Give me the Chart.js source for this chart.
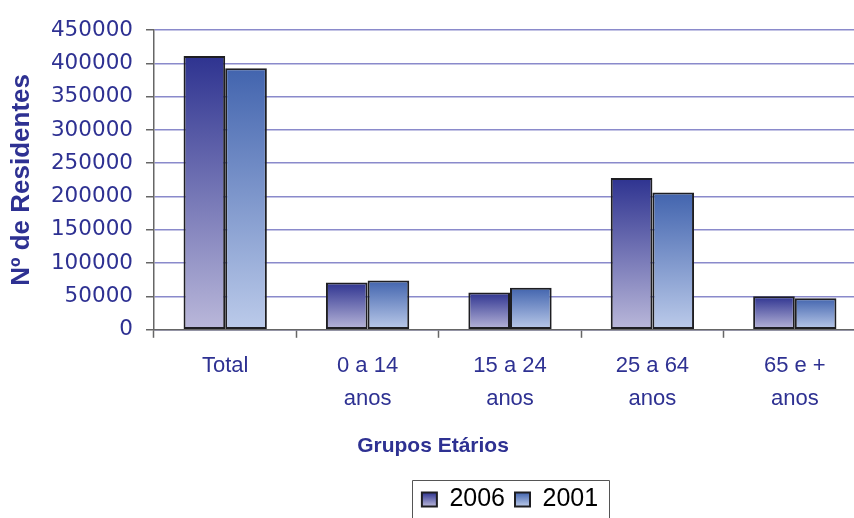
<!DOCTYPE html>
<html>
<head>
<meta charset="utf-8">
<script src="https://cdn.jsdelivr.net/npm/chart.js@4/dist/chart.umd.min.js"></script>
<style>
  html, body { margin: 0; padding: 0; background: #ffffff; overflow: hidden; width: 854px; height: 518px; }
  #wrap { position: absolute; left: 0; top: 0; width: 868px; height: 522px; }
</style>
</head>
<body>
<div id="wrap"><canvas id="c" width="868" height="522"></canvas></div>
<script>
// ---- data ----
const categories = [['Total'], ['0 a 14', 'anos'], ['15 a 24', 'anos'], ['25 a 64', 'anos'], ['65 e +', 'anos']];
const seriesNames = ['2006', '2001'];
const values2006 = [411000, 71000, 56000, 228000, 50400];
const values2001 = [392400, 74000, 63000, 206000, 47400];
const yTickValues = [0, 50000, 100000, 150000, 200000, 250000, 300000, 350000, 400000, 450000];
const yTickLabels = ['0', '50000', '100000', '150000', '200000', '250000', '300000', '350000', '400000', '450000'];
const xAxisTitle = 'Grupos Etários';
const yAxisTitle = 'Nº de Residentes';

const NAVY = '#2E3192';
const grad2006 = ['#2E3390', '#BAB8DA'];
const grad2001 = ['#4264AE', '#BCCBEA'];

function barGradient(stops) {
  return function (ctx) {
    const chart = ctx.chart;
    if (!chart.chartArea || ctx.type !== 'data') return stops[0];
    const ys = chart.scales.y;
    const yTop = ys.getPixelForValue(ctx.raw);
    const yBot = ys.getPixelForValue(0);
    const g = chart.ctx.createLinearGradient(0, yTop, 0, yBot);
    g.addColorStop(0, stops[0]);
    g.addColorStop(1, stops[1]);
    return g;
  };
}

const legendStyle = {
  id: 'legendStyle',
  beforeDraw(chart) {
    const lg = chart.legend;
    if (!lg || !lg.legendItems || !lg.legendHitBoxes) return;
    const grads = [grad2006, grad2001];
    lg.legendItems.forEach((it, i) => {
      const hb = lg.legendHitBoxes[i];
      if (!hb) return;
      const cy = hb.top + hb.height / 2;
      const g = chart.ctx.createLinearGradient(0, cy - 7, 0, cy + 7);
      g.addColorStop(0, grads[i][0]);
      g.addColorStop(1, grads[i][1]);
      it.fillStyle = g;
    });
  },
  afterDraw(chart) {
    const lg = chart.legend;
    if (!lg || !lg.legendHitBoxes || !lg.legendHitBoxes.length) return;
    const first = lg.legendHitBoxes[0];
    const last = lg.legendHitBoxes[lg.legendHitBoxes.length - 1];
    const cy = first.top + first.height / 2;
    const c = chart.ctx;
    c.save();
    c.strokeStyle = '#555555';
    c.lineWidth = 1;
    const x0 = Math.round(first.left - 10) + 0.5;
    const x1 = Math.round(last.left + last.width + 11) + 0.5;
    const y0 = Math.round(cy - 20) + 0.5;
    c.beginPath();
    c.moveTo(x0, chart.height + 5);
    c.lineTo(x0, y0);
    c.lineTo(x1, y0);
    c.lineTo(x1, chart.height + 5);
    c.stroke();
    c.restore();
  }
};

new Chart(document.getElementById('c'), {
  type: 'bar',
  data: {
    labels: categories,
    datasets: [
      {
        label: seriesNames[0],
        data: values2006,
        backgroundColor: barGradient(grad2006),
        borderColor: '#1E1E22',
        borderWidth: 2,
        borderSkipped: false,
        categoryPercentage: 0.585,
        barPercentage: 1.0
      },
      {
        label: seriesNames[1],
        data: values2001,
        backgroundColor: barGradient(grad2001),
        borderColor: '#1E1E22',
        borderWidth: 2,
        borderSkipped: false,
        categoryPercentage: 0.585,
        barPercentage: 1.0
      }
    ]
  },
  options: {
    responsive: false,
    animation: false,
    devicePixelRatio: 1,
    layout: { padding: { top: 30, right: 2, left: 0, bottom: 0 } },
    plugins: {
      tooltip: { enabled: false },
      title: {
        display: true,
        position: 'bottom',
        weight: 500,
        text: xAxisTitle,
        color: NAVY,
        font: { family: "'Liberation Sans', Arial, sans-serif", size: 21, weight: 'bold', lineHeight: 1.2 },
        padding: { top: 4, bottom: 18 }
      },
      legend: {
        display: true,
        position: 'bottom',
        fullSize: false,
        labels: {
          color: '#1A1A1A',
          font: { family: "'Liberation Sans', Arial, sans-serif", size: 25 },
          boxWidth: 15,
          boxHeight: 14,
          padding: 10,
          generateLabels(chart) {
            return chart.data.datasets.map((ds, i) => ({
              text: ds.label,
              fillStyle: (i === 0 ? grad2006 : grad2001)[0],
              strokeStyle: '#1E1E22',
              lineWidth: 2,
              hidden: false,
              datasetIndex: i
            }));
          }
        }
      }
    },
    scales: {
      x: {
        grid: { display: true, drawOnChartArea: false, drawTicks: true, tickLength: 8, tickColor: '#666666', tickWidth: 1.5, offset: true },
        border: { display: true, color: '#666666', width: 1.5 },
        ticks: {
          color: NAVY,
          padding: 12,
          maxRotation: 0,
          autoSkip: false,
          font: { family: "'Liberation Sans', Arial, sans-serif", size: 22, lineHeight: 1.5 }
        },
        afterFit(s) { s.height = 100; }
      },
      y: {
        min: 0,
        max: 450000,
        afterBuildTicks(s) { s.ticks = yTickValues.map(v => ({ value: v })); },
        grid: { color: '#8A8ACB', lineWidth: 1.5, tickLength: 8, tickColor: '#666666', tickWidth: 1.5 },
        border: { display: true, color: '#666666', width: 1.5 },
        ticks: {
          color: NAVY,
          padding: 13,
          font: { family: "'DejaVu Sans', sans-serif", size: 21.5 },
          callback(v) { const i = yTickValues.indexOf(v); return i >= 0 ? yTickLabels[i] : ''; }
        },
        title: {
          display: true,
          text: yAxisTitle,
          color: NAVY,
          font: { family: "'Liberation Sans', Arial, sans-serif", size: 26, weight: 'bold', lineHeight: 1.2 },
          padding: { top: 6, bottom: 0 }
        },
        afterFit(s) { s.width = 154; }
      }
    }
  },
  plugins: [legendStyle]
});
</script>
</body>
</html>
